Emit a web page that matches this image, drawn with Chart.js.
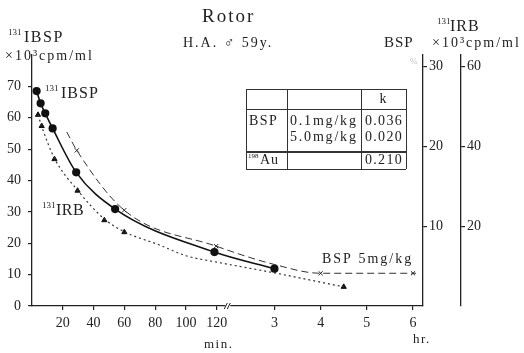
<!DOCTYPE html>
<html>
<head>
<meta charset="utf-8">
<script src="https://cdn.jsdelivr.net/npm/chart.js@4.4.1/dist/chart.umd.min.js"></script>
<style>
  body { margin: 0; background: #fff; }
  #chart { display: block; }
</style>
</head>
<body>
<canvas id="chart" width="524" height="353"></canvas>
<script>
// times in minutes
const minuteTicks = [20, 40, 60, 80, 100, 120];
const hourTicks = [3, 4, 5, 6];
const leftTicks = [0, 10, 20, 30, 40, 50, 60, 70];
const bspTicks = [10, 20, 30];
const irbTicks = [20, 40, 60];

// 131I-BSP (left axis, x10^3 cpm/ml)
const ibspTime = [3, 5.6, 8.6, 13.4, 28.7, 54, 118.5, 180];
const ibspValue = [68.5, 64.6, 61.4, 56.6, 42.6, 30.9, 17.2, 11.9];

// 131I-RB (right axis, x10^3 cpm/ml)
const irbTime = [3.9, 6.3, 14.6, 29.6, 47, 60, 270];
const irbValue = [47.9, 45.1, 36.8, 28.9, 21.5, 18.5, 4.8];
const irbCurveTime = [3.9, 6.3, 14.6, 29.6, 47, 60, 82.7, 100, 120, 180, 270];
const irbCurveValue = [47.9, 45.0, 37.0, 29.0, 21.8, 18.6, 15.3, 12.6, 11.0, 8.3, 4.8];

// BSP 5mg/kg (BSP axis)
const bspTime = [29.1, 59.9, 119.6, 240, 360];
const bspValue = [19.5, 12.0, 7.5, 4.1, 4.1];
const bspCurveTime = [22.6, 29.1, 59.9, 119.6, 180, 240, 364];
const bspCurveValue = [21.8, 19.5, 12.0, 7.5, 5.2, 4.1, 4.1];

// broken time axis: minutes up to 120, then hours on a compressed scale
const BREAK_GAP = 7.5;
const HOUR_SCALE = 0.5;
function pos(t) {
    return t <= 120 ? t : 120 + BREAK_GAP + (t - 120) * HOUR_SCALE;
}
function pts(times, values) {
    return times.map(function (t, i) { return { x: pos(t), y: values[i] }; });
}

const xTickPos = minuteTicks.map(pos).concat(hourTicks.map(function (h) { return pos(h * 60); }));
const xTickLabels = minuteTicks.map(String).concat(hourTicks.map(String));

Chart.defaults.font.family = "'Liberation Serif', 'DejaVu Serif', serif";
Chart.defaults.color = '#222';

function setTicks(list) {
    return function (scale) {
        scale.ticks = list.map(function (v) { return { value: v }; });
    };
}

function axisStyle(tickLen) {
    return {
        border: { display: true, color: '#222', width: 1.3 },
        grid: { drawOnChartArea: false, drawTicks: true, tickLength: tickLen, color: '#222', lineWidth: 1.2 }
    };
}

function txt(ctx, s, x, y, size, spacing, align, color) {
    ctx.font = size + "px 'Liberation Serif', 'DejaVu Serif', serif";
    ctx.letterSpacing = (spacing || 0) + 'px';
    ctx.fillStyle = color || '#222';
    ctx.textAlign = align || 'left';
    ctx.textBaseline = 'middle';
    ctx.fillText(s, x, y);
    ctx.letterSpacing = '0px';
}

const annotations = {
    id: 'annotations',
    afterDraw: function (chart) {
        const ctx = chart.ctx;
        const xs = chart.scales.x;
        ctx.save();

        // titles
        txt(ctx, 'Rotor', 202, 17, 19, 2);
        txt(ctx, 'H.A. \u2642 59y.', 183, 43, 14, 2);

        txt(ctx, '131', 8, 33, 9);
        txt(ctx, 'IBSP', 24, 38, 16, 1.5);
        txt(ctx, '\u00d710\u00b3cpm/ml', 5, 56, 14, 2);

        txt(ctx, 'BSP', 384, 43, 15, 1);
        txt(ctx, '%', 410, 62, 9, 0, 'left', '#bbb');
        txt(ctx, '131', 437, 22, 9);
        txt(ctx, 'IRB', 450, 27, 16, 1);
        txt(ctx, '\u00d710\u00b3cpm/ml', 432, 43, 14, 2);

        // curve labels
        txt(ctx, '131', 45, 89, 9);
        txt(ctx, 'IBSP', 61, 94, 16, 1);
        txt(ctx, '131', 42, 206, 9);
        txt(ctx, 'IRB', 56, 211, 16, 0.5);
        txt(ctx, 'BSP 5mg/kg', 322, 259, 14, 2);

        txt(ctx, 'min.', 204, 345, 13, 1.5);
        txt(ctx, 'hr.', 413, 340, 13, 1.5);

        // axis break
        const bx = xs.getPixelForValue(pos(120) + BREAK_GAP) - 1;
        const by = chart.chartArea.bottom;
        ctx.fillStyle = '#fff';
        ctx.fillRect(bx - 2, by - 2, 5, 4);
        ctx.strokeStyle = '#222';
        ctx.lineWidth = 1;
        ctx.beginPath();
        ctx.moveTo(bx - 3, by + 3); ctx.lineTo(bx, by - 3);
        ctx.moveTo(bx, by + 3); ctx.lineTo(bx + 3, by - 3);
        ctx.stroke();

        // k table
        const cols = [246, 287, 361, 406];
        const rows = [89, 109, 151, 169];
        ctx.strokeStyle = '#333';
        ctx.lineWidth = 1;
        ctx.beginPath();
        rows.forEach(function (y) { ctx.moveTo(cols[0], y + 0.5); ctx.lineTo(cols[3], y + 0.5); });
        cols.forEach(function (x) { ctx.moveTo(x + 0.5, rows[0]); ctx.lineTo(x + 0.5, rows[3]); });
        ctx.stroke();
        ctx.beginPath();
        ctx.moveTo(cols[0], rows[2] + 1.5); ctx.lineTo(cols[3], rows[2] + 1.5);
        ctx.stroke();

        txt(ctx, 'k', 383, 99, 14, 0, 'center');
        txt(ctx, 'BSP', 249, 121, 14, 1.5);
        txt(ctx, '0.1mg/kg', 290, 121, 14, 1.8);
        txt(ctx, '0.036', 365, 121, 14, 1.3);
        txt(ctx, '5.0mg/kg', 290, 137, 14, 1.8);
        txt(ctx, '0.020', 365, 137, 14, 1.3);
        txt(ctx, '198', 248, 156, 7);
        txt(ctx, 'Au', 260, 160, 14, 1);
        txt(ctx, '0.210', 365, 160, 14, 1.3);

        ctx.restore();
    }
};

new Chart(document.getElementById('chart'), {
    type: 'scatter',
    data: {
        datasets: [
            {
                label: '131IBSP',
                data: pts(ibspTime, ibspValue),
                yAxisID: 'y',
                showLine: true,
                cubicInterpolationMode: 'monotone',
                borderColor: '#111',
                borderWidth: 1.6,
                backgroundColor: '#111',
                pointStyle: 'circle',
                pointRadius: 3.3
            },
            {
                label: '131IRB curve',
                data: pts(irbCurveTime, irbCurveValue),
                yAxisID: 'y3',
                showLine: true,
                cubicInterpolationMode: 'monotone',
                borderColor: '#333',
                borderWidth: 1.2,
                borderDash: [2, 3],
                pointRadius: 0
            },
            {
                label: '131IRB',
                data: pts(irbTime, irbValue),
                yAxisID: 'y3',
                showLine: false,
                backgroundColor: '#111',
                borderColor: '#111',
                pointStyle: 'triangle',
                pointRadius: 3
            },
            {
                label: 'BSP 5mg/kg curve',
                data: pts(bspCurveTime, bspCurveValue),
                yAxisID: 'y2',
                showLine: true,
                cubicInterpolationMode: 'monotone',
                borderColor: '#333',
                borderWidth: 1,
                borderDash: [7, 4],
                pointRadius: 0
            },
            {
                label: 'BSP 5mg/kg',
                data: pts(bspTime, bspValue),
                yAxisID: 'y2',
                showLine: false,
                borderColor: '#222',
                borderWidth: 1,
                pointStyle: 'crossRot',
                pointRadius: 3
            }
        ]
    },
    options: {
        responsive: false,
        devicePixelRatio: 1,
        animation: false,
        layout: { padding: { top: 55, left: 0, right: 0, bottom: 0 } },
        plugins: {
            legend: { display: false },
            tooltip: { enabled: false }
        },
        scales: {
            x: Object.assign(axisStyle(4), {
                type: 'linear',
                min: 0,
                max: 254,
                afterBuildTicks: setTicks(xTickPos),
                afterFit: function (scale) { scale.height = 47; },
                ticks: {
                    padding: 5,
                    font: { size: 14 },
                    callback: function (value, index) { return xTickLabels[index]; }
                }
            }),
            y: Object.assign(axisStyle(4), {
                position: 'left',
                min: 0,
                max: 80,
                afterBuildTicks: setTicks(leftTicks),
                afterFit: function (scale) { scale.width = 32; },
                ticks: { padding: 7, font: { size: 14 } }
            }),
            y2: Object.assign(axisStyle(4), {
                position: 'right',
                weight: 1,
                min: 0,
                max: 31.45,
                afterBuildTicks: setTicks(bspTicks),
                afterFit: function (scale) { scale.width = 38; },
                ticks: { padding: 2, font: { size: 14 } }
            }),
            y3: Object.assign(axisStyle(4), {
                position: 'right',
                weight: 2,
                min: 0,
                max: 62.9,
                afterBuildTicks: setTicks(irbTicks),
                afterFit: function (scale) { scale.width = 63; },
                ticks: { padding: 2, font: { size: 14 } }
            })
        }
    },
    plugins: [annotations]
});
</script>
</body>
</html>
